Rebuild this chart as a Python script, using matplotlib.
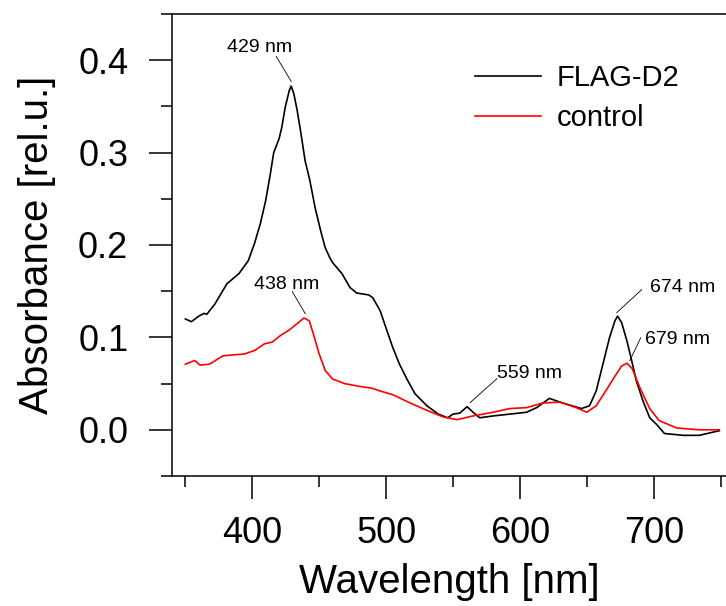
import matplotlib.pyplot as plt
from matplotlib.ticker import MultipleLocator

plt.rcParams['font.family'] = ['Liberation Sans', 'DejaVu Sans']

# spectra (wavelength nm, absorbance)
wl_flag = [350, 354.5, 360, 364, 366, 372, 381, 390, 397, 401.5, 406, 410, 413.5, 416,
           420, 422, 424.6, 427.6, 429, 431, 433.5, 436, 439.5, 443, 447, 451, 454.5,
           458, 460, 467, 473, 478, 487, 490, 495.5, 500.7, 505, 510, 515.5, 521.6,
           530.5, 539, 546, 550, 555, 560.5, 565, 570, 580, 592.5, 605, 612.5, 622,
           632, 646, 652, 657, 662, 667, 671, 673, 676, 680, 683.5, 687, 692, 697,
           702, 708, 722, 734, 749]
abs_flag = [0.120, 0.117, 0.123, 0.126, 0.125, 0.136, 0.158, 0.169, 0.183, 0.201, 0.223,
            0.248, 0.277, 0.300, 0.315, 0.327, 0.349, 0.367, 0.372, 0.364, 0.346, 0.324,
            0.291, 0.270, 0.240, 0.216, 0.197, 0.186, 0.181, 0.169, 0.154, 0.148, 0.146,
            0.143, 0.129, 0.107, 0.089, 0.071, 0.055, 0.039, 0.026, 0.017, 0.013, 0.017,
            0.018, 0.025, 0.019, 0.013, 0.015, 0.017, 0.019, 0.024, 0.034, 0.029, 0.023,
            0.026, 0.042, 0.071, 0.100, 0.118, 0.123, 0.116, 0.096, 0.075, 0.053, 0.031,
            0.013, 0.006, -0.004, -0.006, -0.006, -0.001]

wl_ctrl = [350, 357, 361, 368, 378, 385, 394, 402, 409, 415, 421, 427.6, 433.6, 438.6,
           442.6, 446, 450, 454.6, 460, 469, 480, 489.5, 495.5, 505, 518, 530.6, 542.5,
           553, 565, 580, 592.5, 605, 617, 630, 642, 650, 657, 665, 671, 676, 680, 684,
           689.5, 697, 704, 717, 734, 749]
abs_ctrl = [0.071, 0.075, 0.070, 0.071, 0.080, 0.081, 0.082, 0.086, 0.093, 0.095, 0.102,
            0.108, 0.115, 0.121, 0.118, 0.102, 0.082, 0.064, 0.055, 0.050, 0.047, 0.045,
            0.042, 0.038, 0.029, 0.021, 0.014, 0.011, 0.015, 0.019, 0.023, 0.024, 0.029,
            0.030, 0.024, 0.019, 0.026, 0.044, 0.058, 0.069, 0.072, 0.066, 0.046, 0.023,
            0.010, 0.002, 0.000, 0.000]

# peak labels: text, text position, leader line start and end
peak_labels = ['429 nm', '438 nm', '559 nm', '674 nm', '679 nm']
label_pos = [(405.2, 0.416), (425.4, 0.159), (607.5, 0.0628), (721.6, 0.156), (717.9, 0.0997)]
leader_from = [(417.9, 0.404), (429.9, 0.1495), (582.8, 0.0553), (691.0, 0.1517), (690.3, 0.0997)]
leader_to = [(429.1, 0.377), (439.6, 0.1257), (562.7, 0.0293), (672.4, 0.1268), (682.1, 0.0748)]

fig = plt.figure(figsize=(7.26, 6.06), dpi=100)
ax = fig.add_axes([172 / 726, 1 - 476 / 606, 1 - 172 / 726, 462 / 606])

ax.plot(wl_flag, abs_flag, color='black', lw=1.2, label='FLAG-D2')
ax.plot(wl_ctrl, abs_ctrl, color='#ff0000', lw=1.2, label='control')

for txt, pos, p0, p1 in zip(peak_labels, label_pos, leader_from, leader_to):
    ax.plot([p0[0], p1[0]], [p0[1], p1[1]], color='black', lw=0.6)
    ax.text(pos[0], pos[1], txt, fontsize=14, ha='center', va='center_baseline')

ax.set_xlim(340, 754)
ax.set_ylim(-0.05, 0.45)
ax.xaxis.set_major_locator(MultipleLocator(100))
ax.xaxis.set_minor_locator(MultipleLocator(50))
ax.yaxis.set_major_locator(MultipleLocator(0.1))
ax.yaxis.set_minor_locator(MultipleLocator(0.05))
ax.tick_params(which='major', direction='out', length=16.5, width=1.1, labelsize=26, pad=12)
ax.tick_params(axis='y', which='major', pad=15)
ax.tick_params(which='minor', direction='out', length=8, width=1.1)
ax.yaxis.set_major_formatter(plt.FuncFormatter(lambda v, p: f'{v:.1f}'))

for s in ['left', 'top', 'bottom']:
    ax.spines[s].set_linewidth(1.1)
ax.spines['right'].set_visible(False)

ax.set_xlabel('Wavelength [nm]', fontsize=29, labelpad=9)
ax.set_ylabel('Absorbance [rel.u.]', fontsize=29, labelpad=16)

ax.legend(loc='upper left', bbox_to_anchor=(475 / 726, 1 - 64 / 606), bbox_transform=fig.transFigure,
          frameon=False, fontsize=21, handlelength=2.26, handletextpad=0.55,
          borderpad=0, borderaxespad=0, labelspacing=0.42)

fig.savefig('out.png', dpi=100)
